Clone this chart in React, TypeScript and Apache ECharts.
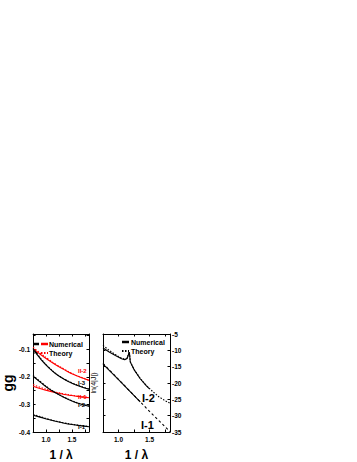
import React, { useEffect, useRef } from "react";
import * as echarts from "echarts";

// ---------- data ----------
const leftX = [0.75, 0.9, 1.05, 1.2, 1.35, 1.5, 1.65, 1.83];
const II2Num = [-0.098, -0.12, -0.14, -0.158, -0.174, -0.189, -0.201, -0.213];
const II2The = [-0.093, -0.116, -0.137, -0.156, -0.172, -0.188, -0.2, -0.212];
const I3Num = [-0.1, -0.137, -0.167, -0.191, -0.209, -0.223, -0.234, -0.245];
const I3The = [-0.097, -0.134, -0.165, -0.19, -0.208, -0.222, -0.233, -0.244];
const II1Num = [-0.234, -0.243, -0.251, -0.258, -0.264, -0.268, -0.272, -0.276];
const II1The = [-0.228, -0.239, -0.248, -0.256, -0.262, -0.267, -0.271, -0.275];
const I2Num = [-0.198, -0.221, -0.243, -0.26, -0.275, -0.288, -0.298, -0.307];
const I2The = [-0.195, -0.219, -0.241, -0.259, -0.274, -0.287, -0.297, -0.306];
const I1Num = [-0.339, -0.347, -0.355, -0.362, -0.368, -0.373, -0.377, -0.381];
const I1The = [-0.336, -0.345, -0.354, -0.361, -0.367, -0.372, -0.376, -0.38];

const rightI2X = [0.75, 0.85, 0.95, 1.05, 1.1, 1.14, 1.165, 1.175, 1.19, 1.25, 1.35, 1.45, 1.55, 1.65, 1.75, 1.83];
const rightI2The = [-8.5, -10.0, -11.3, -12.4, -12.7, -12.3, -10.8, -10.4, -13.5, -15.8, -18.6, -20.8, -22.6, -24.2, -25.4, -26.2];
const rightI2NumX = [0.75, 0.85, 0.95, 1.05, 1.1, 1.14, 1.165, 1.175, 1.19, 1.25, 1.35, 1.45, 1.5];
const rightI2Num = [-9.3, -10.5, -11.6, -12.6, -12.9, -12.5, -11.0, -10.6, -13.6, -15.9, -18.7, -20.9, -21.8];
const rightI1X = [0.75, 1.0, 1.25, 1.5, 1.83];
const rightI1The = [-14.0, -18.9, -23.8, -28.7, -34.9];
const rightI1NumX = [0.75, 1.0, 1.2, 1.35];
const rightI1Num = [-14.2, -19.0, -22.9, -25.8];

const xTicks = [0.75, 1.0, 1.25, 1.5, 1.75];
const xLabels = [1.0, 1.5];
const leftYTicks = [-0.4, -0.35, -0.3, -0.25, -0.2, -0.15, -0.1, -0.05];
const leftYLabels = [-0.4, -0.3, -0.2, -0.1];

const zip = (xs: number[], ys: number[]) => xs.map((x, i) => [x, ys[i]]);

const FONT = "Liberation Sans";

export default function App() {
  const ref = useRef<HTMLDivElement>(null);
  useEffect(() => {
    if (!ref.current) return;
    const chart = echarts.init(ref.current, null, { renderer: "svg" });

    const xBase = (gridIndex: number, top: boolean, showName: boolean) => ({
      type: "value",
      gridIndex,
      position: top ? "top" : "bottom",
      min: 0.75,
      max: 1.83,
      axisLine: { show: true, lineStyle: { color: "#000", width: 1 } },
      axisTick: { show: true, inside: true, length: 2.5, customValues: xTicks, lineStyle: { color: "#000" } },
      axisLabel: {
        show: !top,
        customValues: xLabels,
        formatter: (v: number) => v.toFixed(1),
        fontSize: 6.5,
        fontWeight: "bold",
        fontFamily: FONT,
        color: "#000",
        margin: 4,
      },
      splitLine: { show: false },
      name: showName ? "1 / λ" : "",
      nameLocation: "middle",
      nameGap: 17,
      nameTextStyle: { fontSize: 12, fontWeight: "bold", fontFamily: FONT, color: "#000" },
    });

    const leftY = (right: boolean) => ({
      type: "value",
      gridIndex: 0,
      position: right ? "right" : "left",
      min: -0.4,
      max: -0.045,
      axisLine: { show: true, lineStyle: { color: "#000", width: 1 } },
      axisTick: { show: true, inside: true, length: 2.5, customValues: leftYTicks },
      axisLabel: {
        show: !right,
        customValues: leftYLabels,
        formatter: (v: number) => v.toFixed(1),
        fontSize: 6.5,
        fontWeight: "bold",
        fontFamily: FONT,
        color: "#000",
        margin: 3,
      },
      splitLine: { show: false },
      name: right ? "" : "gg",
      nameLocation: "middle",
      nameGap: 14,
      nameTextStyle: { fontSize: 14, fontWeight: "bold", fontFamily: FONT, color: "#000" },
    });

    const rightY = (right: boolean) => ({
      type: "value",
      gridIndex: 1,
      position: right ? "right" : "left",
      min: -35,
      max: -5,
      interval: 5,
      axisLine: { show: true, lineStyle: { color: "#000", width: 1 } },
      axisTick: { show: true, inside: true, length: 2.5 },
      axisLabel: {
        show: right,
        fontSize: 6.5,
        fontWeight: "bold",
        fontFamily: FONT,
        color: "#000",
        margin: 2,
      },
      splitLine: { show: false },
      name: right ? "" : "ln(4|J|)",
      nameLocation: "middle",
      nameGap: 6,
      nameTextStyle: { fontSize: 7, fontFamily: FONT, color: "#000" },
    });

    const line = (
      data: number[][],
      color: string,
      dotted: boolean,
      xi: number,
      yi: number,
      smooth: boolean | number = 0.4,
      dash: number[] = [1.5, 1.5]
    ) => ({
      type: "line",
      xAxisIndex: xi,
      yAxisIndex: yi,
      data,
      smooth,
      symbol: "none",
      silent: true,
      lineStyle: { color, width: 1.1, type: dotted ? dash : "solid" },
    });

    const BLACK = "#000";
    const RED = "#ff0000";

    const series = [
      line(zip(leftX, II2Num), RED, false, 0, 0),
      line(zip(leftX, II2The), RED, true, 0, 0),
      line(zip(leftX, I3Num), BLACK, false, 0, 0),
      line(zip(leftX, I3The), BLACK, true, 0, 0),
      line(zip(leftX, II1Num), RED, false, 0, 0),
      line(zip(leftX, II1The), RED, true, 0, 0),
      line(zip(leftX, I2Num), BLACK, false, 0, 0),
      line(zip(leftX, I2The), BLACK, true, 0, 0),
      line(zip(leftX, I1Num), BLACK, false, 0, 0),
      line(zip(leftX, I1The), BLACK, true, 0, 0),
      line(zip(rightI2X, rightI2The), BLACK, true, 2, 3, false),
      line(zip(rightI2NumX, rightI2Num), BLACK, false, 2, 3, false),
      line(zip(rightI1X, rightI1The), BLACK, true, 2, 3, false, [2.5, 2.5]),
      line(zip(rightI1NumX, rightI1Num), BLACK, false, 2, 3, false),
    ];

    const txt = (text: string, x: number, y: number, size: number, color = BLACK, weight = "bold") => ({
      type: "text",
      x,
      y,
      silent: true,
      style: {
        text,
        fill: color,
        fontSize: size,
        fontWeight: weight,
        fontFamily: FONT,
        align: "left",
        verticalAlign: "middle",
      },
    });
    const seg = (x1: number, x2: number, y: number, color: string, dotted: boolean) => ({
      type: "line",
      silent: true,
      shape: { x1, y1: y, x2, y2: y },
      style: { stroke: color, lineWidth: dotted ? 2 : 2.5, lineDash: dotted ? [1.5, 1.5] : undefined },
    });

    const graphic = [
      // left legend
      seg(33, 39, 344, BLACK, false),
      seg(41, 48, 344, RED, false),
      txt("Numerical", 49, 344, 7),
      seg(33, 39, 353, BLACK, true),
      seg(41, 48, 353, RED, true),
      txt("Theory", 49, 353, 7),
      // left curve labels
      txt("II-2", 78, 371, 6, RED),
      txt("I-3", 78, 383, 6),
      txt("II-1", 78, 397, 6, RED),
      txt("I-2", 78, 405, 6),
      txt("I-1", 78, 427, 6),
      // right legend
      seg(122, 129, 342, BLACK, false),
      txt("Numerical", 131, 342, 7),
      seg(122, 129, 351, BLACK, true),
      txt("Theory", 131, 351, 7),
      // right curve labels
      txt("I-2", 142, 398, 11),
      txt("I-1", 141, 425, 11),
    ];

    chart.setOption({
      animation: false,
      backgroundColor: "#fff",
      grid: [
        { left: 24, top: 334, width: 65, height: 103, containLabel: false },
        { left: 103, top: 334, width: 67, height: 103, containLabel: false },
      ],
      xAxis: [xBase(0, false, true), xBase(0, true, false), xBase(1, false, true), xBase(1, true, false)],
      yAxis: [leftY(false), leftY(true), rightY(false), rightY(true)],
      series,
      graphic,
    });
    return () => chart.dispose();
  }, []);
  return (
    <div
      ref={ref}
      style={{ position: "absolute", left: 0, top: 0, width: 357, height: 462 }}
    />
  );
}
